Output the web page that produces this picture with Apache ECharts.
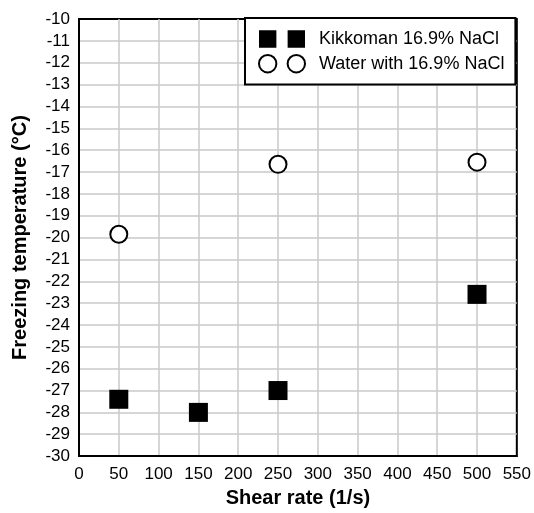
<!DOCTYPE html>
<html>
<head>
<meta charset="utf-8">
<script src="https://cdn.jsdelivr.net/npm/echarts@6/dist/echarts.min.js"></script>
<style>
  html, body { margin: 0; padding: 0; background: #fff; }
  #main { width: 534px; height: 513px; }
</style>
</head>
<body>
<div id="main"></div>
<script>
// shear rate (1/s) and freezing temperature (degC)
var kikkomanRate = [50, 150, 250, 500];
var kikkomanTemp = [-27.4, -28.0, -27.0, -22.6];
var waterRate = [50, 250, 500];
var waterTemp = [-19.85, -16.65, -16.55];

var font = 'Liberation Sans, Arial, sans-serif';

function pairs(xs, ys) {
    var out = [];
    for (var i = 0; i < xs.length; i++) {
        out.push([xs[i], ys[i]]);
    }
    return out;
}

// two markers side by side, like the spreadsheet legend
var twoSquares = 'path://M0,0h17v17h-17z M28,0h17v17h-17z';
var twoCircles = 'path://M0,8.5A8.5,8.5 0 1,1 17,8.5A8.5,8.5 0 1,1 0,8.5Z M28,8.5A8.5,8.5 0 1,1 45,8.5A8.5,8.5 0 1,1 28,8.5Z';

var gridLine = { show: true, showMinLine: false, showMaxLine: false, lineStyle: { color: '#c8c8c8', width: 1.5 } };

var chart = echarts.init(document.getElementById('main'));
chart.setOption({
    animation: false,
    textStyle: { fontFamily: font, color: '#000' },
    grid: {
        left: 79,
        right: 15,
        top: 19,
        bottom: 54,
        show: true,
        borderColor: '#000',
        borderWidth: 2,
        backgroundColor: 'transparent'
    },
    legend: {
        orient: 'vertical',
        left: 245,
        top: 18,
        width: 273,
        padding: [12, 11, 11, 13],
        borderColor: '#000',
        borderWidth: 2,
        backgroundColor: '#fff',
        itemWidth: 46,
        itemHeight: 18,
        itemGap: 6,
        textStyle: {
            fontFamily: font,
            fontSize: 18,
            color: '#000',
            padding: [0, 0, 0, 9]
        },
        data: [{
            name: 'Kikkoman 16.9% NaCl',
            icon: twoSquares,
            itemStyle: { color: '#000', borderWidth: 0 }
        }, {
            name: 'Water with 16.9% NaCl',
            icon: twoCircles,
            itemStyle: { color: '#fff', borderColor: '#000', borderWidth: 2 }
        }]
    },
    xAxis: {
        type: 'value',
        min: 0,
        max: 550,
        interval: 50,
        name: 'Shear rate (1/s)',
        nameLocation: 'middle',
        nameGap: 28,
        nameTextStyle: { fontFamily: font, fontSize: 20, fontWeight: 'bold', color: '#000' },
        axisLine: { show: true, lineStyle: { color: '#000', width: 2 } },
        axisTick: { show: false },
        axisLabel: { fontFamily: font, fontSize: 17, color: '#000', margin: 10 },
        splitLine: gridLine
    },
    yAxis: {
        type: 'value',
        min: -30,
        max: -10,
        interval: 1,
        name: 'Freezing temperature (°C)',
        nameLocation: 'middle',
        nameGap: 49,
        nameTextStyle: { fontFamily: font, fontSize: 20, fontWeight: 'bold', color: '#000' },
        axisLine: { show: true, lineStyle: { color: '#000', width: 2 } },
        axisTick: { show: false },
        axisLabel: { fontFamily: font, fontSize: 17, color: '#000', margin: 9 },
        splitLine: gridLine
    },
    series: [{
        name: 'Kikkoman 16.9% NaCl',
        type: 'scatter',
        symbol: 'rect',
        symbolSize: 19,
        itemStyle: { color: '#000', opacity: 1 },
        data: pairs(kikkomanRate, kikkomanTemp)
    }, {
        name: 'Water with 16.9% NaCl',
        type: 'scatter',
        symbol: 'circle',
        symbolSize: 17,
        itemStyle: { color: '#fff', borderColor: '#000', borderWidth: 2, opacity: 1 },
        data: pairs(waterRate, waterTemp)
    }]
});
</script>
</body>
</html>
